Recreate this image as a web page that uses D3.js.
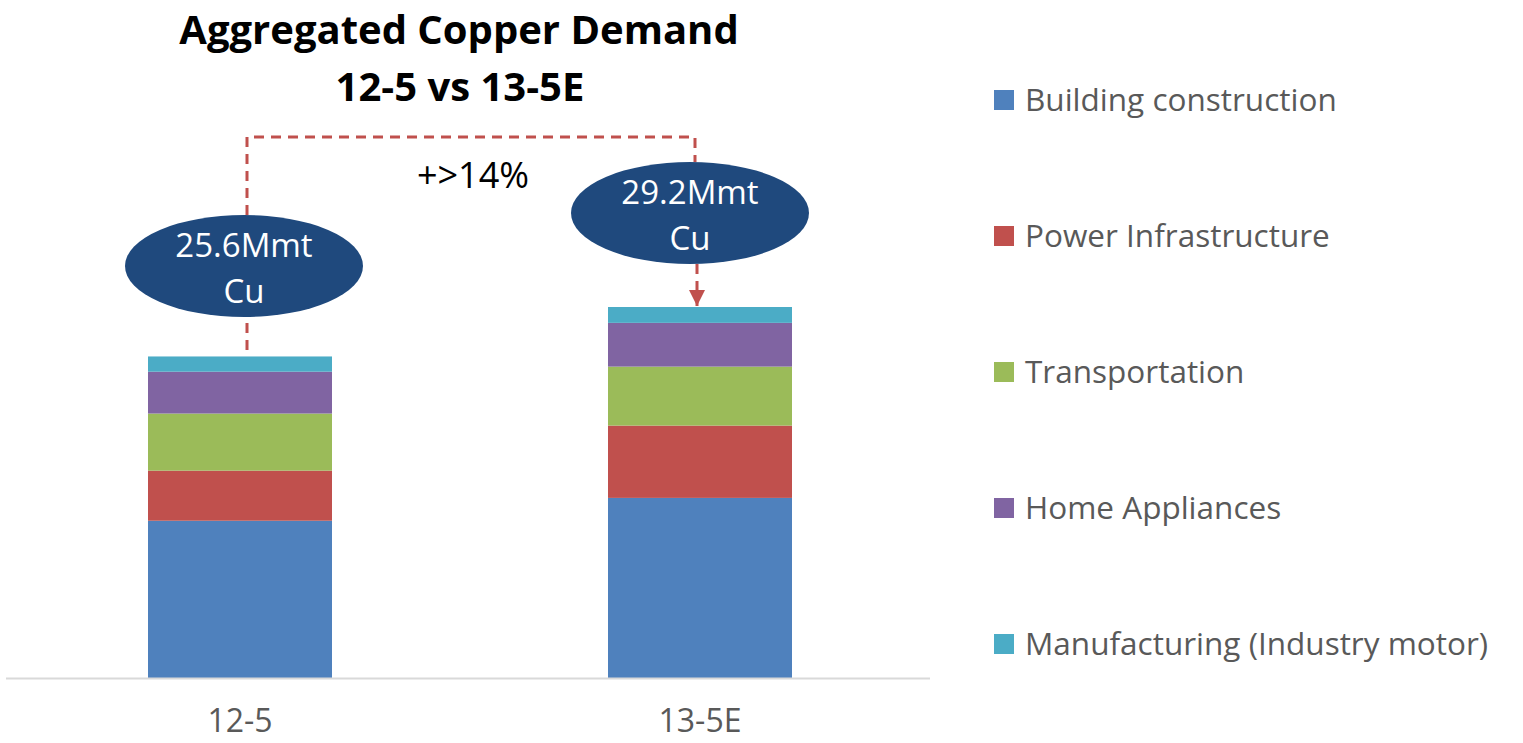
<!DOCTYPE html>
<html lang="en">
<head>
    <meta charset="UTF-8">
    <title>Aggregated Copper Demand</title>
    <script src="https://d3js.org/d3.v7.min.js"></script>
    <style>
        body { margin: 0; background: #fff; }
        svg { display: block; }
    </style>
</head>
<body>
    <svg class="canvas"></svg>
    <script>
        var svg_width = 1523, svg_height = 743;

        // data (Mt Cu)
        var periods = ['12-5', '13-5E'];
        var sectors = ['Building construction', 'Power Infrastructure', 'Transportation',
                       'Home Appliances', 'Manufacturing (Industry motor)'];
        var building = [12.4, 14.2];
        var power = [3.95, 5.7];
        var transport = [4.5, 4.65];
        var appliances = [3.3, 3.45];
        var manufacturing = [1.2, 1.25];
        var totalLabels = ['25.6Mmt', '29.2Mmt'];
        var growthLabel = '+>14%';
        var colors = ['#4f81bd', '#c0504d', '#9bbb59', '#8064a2', '#4bacc6'];

        var rows = periods.map(function(p, i) {
            return {
                period: p,
                'Building construction': building[i],
                'Power Infrastructure': power[i],
                'Transportation': transport[i],
                'Home Appliances': appliances[i],
                'Manufacturing (Industry motor)': manufacturing[i]
            };
        });
        var totals = rows.map(function(r) {
            return d3.sum(sectors, function(s) { return r[s]; });
        });

        var svg = d3.select('svg').attr('width', svg_width).attr('height', svg_height);

        var xScale = d3.scaleBand().domain(periods).range([10, 930])
                .paddingInner(0.6).paddingOuter(0.3);
        var yScale = d3.scaleLinear().domain([0, d3.max(totals)]).range([678, 307]);
        var color = d3.scaleOrdinal().domain(sectors).range(colors);

        var stack = d3.stack().keys(sectors)(rows);

        svg.append('g')
            .selectAll('g')
            .data(stack)
            .enter()
            .append('g')
            .attr('fill', function(d) { return color(d.key); })
            .selectAll('rect')
            .data(function(d) { return d; })
            .enter()
            .append('rect')
            .attr('x', function(d) { return xScale(d.data.period); })
            .attr('y', function(d) { return yScale(d[1]); })
            .attr('width', xScale.bandwidth())
            .attr('height', function(d) { return yScale(d[0]) - yScale(d[1]); });

        // x axis
        var xAxis = svg.append('g')
            .attr('transform', 'translate(0,' + yScale(0) + ')')
            .call(d3.axisBottom(xScale).tickSize(0).tickPadding(31));
        xAxis.select('.domain').attr('stroke', '#d9d9d9').attr('stroke-width', 2)
            .attr('d', 'M6,0.5H930');
        xAxis.selectAll('text')
            .attr('font-family', '"Open Sans", sans-serif')
            .attr('font-size', 32)
            .attr('fill', '#595959');

        // title
        var title = svg.append('text')
            .attr('text-anchor', 'middle')
            .attr('font-family', '"Open Sans", sans-serif')
            .attr('font-weight', 'bold')
            .attr('font-size', 40)
            .attr('fill', '#000');
        title.append('tspan').attr('x', 459).attr('y', 44).text('Aggregated Copper Demand');
        title.append('tspan').attr('x', 460).attr('y', 101).text('12-5 vs 13-5E');

        // annotations
        var dash = '10,7', red = '#c0504d';
        var lineShift = [7, -3], ellShift = [-3, -7];
        var cx = periods.map(function(p, i) { return xScale(p) + xScale.bandwidth() / 2 + lineShift[i]; });
        var ell = [{cy: 266, label: totalLabels[0]}, {cy: 213, label: totalLabels[1]}];
        var rx = 119, ry = 51, topY = 137;

        svg.append('defs').append('marker')
            .attr('id', 'arrow')
            .attr('viewBox', '0 0 10 10')
            .attr('refX', 10).attr('refY', 5)
            .attr('markerWidth', 16).attr('markerHeight', 16)
            .attr('markerUnits', 'userSpaceOnUse')
            .attr('orient', 'auto')
            .append('path').attr('d', 'M0,0L10,5L0,10Z').attr('fill', red);

        svg.append('path')
            .attr('d', d3.line()([[cx[0], ell[0].cy - ry], [cx[0], topY], [cx[1] - 2, topY], [cx[1] - 2, ell[1].cy - ry]]))
            .attr('fill', 'none').attr('stroke', red).attr('stroke-width', 3)
            .attr('stroke-dasharray', dash);

        svg.append('line')
            .attr('x1', cx[0]).attr('x2', cx[0])
            .attr('y1', ell[0].cy + ry + 6).attr('y2', yScale(totals[0]) - 2)
            .attr('stroke', red).attr('stroke-width', 3).attr('stroke-dasharray', dash);

        svg.append('line')
            .attr('x1', cx[1]).attr('x2', cx[1])
            .attr('y1', ell[1].cy + ry).attr('y2', yScale(totals[1]) - 1)
            .attr('stroke', red).attr('stroke-width', 3).attr('stroke-dasharray', dash)
            .attr('marker-end', 'url(#arrow)');

        ell.forEach(function(e, i) {
            var ex = cx[i] + ellShift[i];
            svg.append('ellipse')
                .attr('cx', ex).attr('cy', e.cy)
                .attr('rx', rx).attr('ry', ry)
                .attr('fill', '#1f497d');
            var t = svg.append('text')
                .attr('text-anchor', 'middle')
                .attr('font-family', '"Open Sans", sans-serif')
                .attr('font-size', 33)
                .attr('fill', '#fff');
            t.append('tspan').attr('x', ex).attr('y', e.cy - 9).text(e.label);
            t.append('tspan').attr('x', ex).attr('y', e.cy + 37).text('Cu');
        });

        svg.append('text')
            .attr('x', 473).attr('y', 188)
            .attr('text-anchor', 'middle')
            .attr('font-family', '"Open Sans", sans-serif')
            .attr('font-size', 36)
            .attr('fill', '#000')
            .text(growthLabel);

        // legend
        var legend = svg.append('g').selectAll('g')
            .data(sectors)
            .enter()
            .append('g')
            .attr('transform', function(d, i) { return 'translate(994,' + (100 + i * 136) + ')'; });
        legend.append('rect')
            .attr('x', 0).attr('y', -10).attr('width', 20).attr('height', 20)
            .attr('fill', function(d) { return color(d); });
        legend.append('text')
            .attr('x', 31).attr('y', 11)
            .attr('font-family', '"Open Sans", sans-serif')
            .attr('font-size', 31.5)
            .attr('fill', '#595959')
            .text(function(d) { return d; });
    </script>
</body>
</html>
